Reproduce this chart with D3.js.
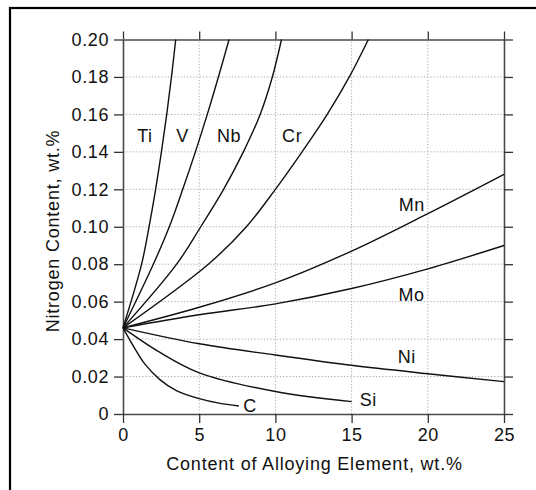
<!DOCTYPE html>
<html>
<head>
<meta charset="utf-8">
<script src="https://cdn.jsdelivr.net/npm/d3@7/dist/d3.min.js"></script>
<style>
  html, body { margin: 0; padding: 0; background: #fff; }
  svg { display: block; }
  text { font-family: "Liberation Sans", Arial, Helvetica, sans-serif; fill: #111; }
</style>
</head>
<body>
<svg id="chart" width="536" height="490"></svg>
<script>
// Solubility of nitrogen in iron vs. alloying element content
const xTicks = [0, 5, 10, 15, 20, 25];
const yTicks = [0, 0.02, 0.04, 0.06, 0.08, 0.10, 0.12, 0.14, 0.16, 0.18, 0.20];
const yTickLabels = ["0", "0.02", "0.04", "0.06", "0.08", "0.10", "0.12", "0.14", "0.16", "0.18", "0.20"];

const elements = ["Ti", "V", "Nb", "Cr", "Mn", "Mo", "Ni", "Si", "C"];

// [alloy wt.%, N wt.%] for each element
const tiValues = [[0, 0.046], [1.22, 0.08], [1.71, 0.10], [2.14, 0.12], [2.52, 0.14], [2.87, 0.16], [3.18, 0.18], [3.46, 0.20]];
const vValues  = [[0, 0.046], [1.99, 0.08], [3.04, 0.10], [3.92, 0.12], [4.75, 0.14], [5.53, 0.16], [6.26, 0.18], [6.96, 0.20]];
const nbValues = [[0, 0.046], [3.52, 0.08], [5.1, 0.10], [6.6, 0.12], [7.9, 0.14], [9.0, 0.16], [9.8, 0.18], [10.4, 0.20]];
const crValues = [[0, 0.046], [5.6, 0.08], [8.1, 0.10], [10.0, 0.12], [11.75, 0.14], [13.4, 0.16], [14.85, 0.18], [16.1, 0.20]];
const mnValues = [[0, 0.046], [5, 0.057], [10, 0.070], [15, 0.087], [20, 0.107], [25, 0.128]];
const moValues = [[0, 0.046], [5, 0.053], [10, 0.0588], [15, 0.067], [20, 0.0775], [25, 0.090]];
const niValues = [[0, 0.046], [5, 0.0375], [10, 0.0315], [15, 0.026], [20, 0.0215], [25, 0.0173]];
const siValues = [[0, 0.046], [2.4, 0.033], [5, 0.022], [10, 0.012], [15, 0.0066]];
const cValues  = [[0, 0.046], [0.7, 0.036], [1.4, 0.027], [2.4, 0.0185], [3.5, 0.0125], [5, 0.0082], [6.3, 0.0058], [7.6, 0.0043]];

// label anchor points (data units) for the element names
const labelAnchors = [[1.44, 0.1488], [3.9, 0.1488], [6.96, 0.1488], [11.1, 0.1485], [18.95, 0.1118], [18.93, 0.0636], [18.62, 0.0305], [16.1, 0.0075], [8.33, 0.0045]];

const seriesValues = [tiValues, vValues, nbValues, crValues, mnValues, moValues, niValues, siValues, cValues];

const svg = d3.select("#chart");

// page frame
svg.append("rect")
  .attr("x", 10).attr("y", 8)
  .attr("width", 700).attr("height", 700)
  .attr("fill", "none").attr("stroke", "#000").attr("stroke-width", 2.2);

const plotLeft = 123, plotRight = 504, plotTop = 39.5, plotBottom = 414;
const x = d3.scaleLinear().domain([0, 25]).range([plotLeft, plotRight]);
const y = d3.scaleLinear().domain([0, 0.20]).range([plotBottom, plotTop]);

// dotted grid
const grid = svg.append("g").attr("stroke", "#a8a8a8").attr("stroke-width", 1).attr("stroke-dasharray", "1.2,2");
grid.selectAll("line.vx").data(xTicks.filter(v => v > 0 && v < 25)).join("line")
  .attr("x1", d => x(d)).attr("x2", d => x(d)).attr("y1", y(0)).attr("y2", y(0.20));
grid.selectAll("line.hy").data(yTicks.filter(v => v > 0 && v < 0.20)).join("line")
  .attr("y1", d => y(d)).attr("y2", d => y(d)).attr("x1", x(0)).attr("x2", x(25));

const fmt = d => yTickLabels[yTicks.indexOf(d)];
const styleAxis = g => {
  g.selectAll("path.domain").attr("stroke", "#4a4a4a").attr("stroke-width", 1.6);
  g.selectAll(".tick line").attr("stroke", "#333").attr("stroke-width", 1.3);
  g.selectAll(".tick text")
    .attr("font-size", 18).attr("letter-spacing", "0.6px").attr("fill", "#111");
};

svg.append("g").attr("transform", `translate(0,${plotBottom})`)
  .call(d3.axisBottom(x).tickValues(xTicks).tickSize(9).tickSizeOuter(0).tickPadding(5))
  .call(styleAxis);
svg.append("g").attr("transform", `translate(${plotLeft},0)`)
  .call(d3.axisLeft(y).tickValues(yTicks).tickFormat(fmt).tickSize(9).tickSizeOuter(0).tickPadding(5))
  .call(styleAxis);
svg.append("g").attr("transform", `translate(0,${plotTop})`)
  .call(d3.axisTop(x).tickValues(xTicks).tickFormat("").tickSize(8).tickSizeOuter(0))
  .call(styleAxis);
svg.append("g").attr("transform", `translate(${plotRight},0)`)
  .call(d3.axisRight(y).tickValues(yTicks).tickFormat("").tickSize(9).tickSizeOuter(0))
  .call(styleAxis);

// curves
const line = d3.line().x(d => x(d[0])).y(d => y(d[1])).curve(d3.curveCatmullRom.alpha(0.5));
svg.append("g").selectAll("path").data(seriesValues).join("path")
  .attr("d", line)
  .attr("fill", "none").attr("stroke", "#111").attr("stroke-width", 1.4);

// element names
svg.append("g").selectAll("text").data(elements).join("text")
  .attr("x", (d, i) => x(labelAnchors[i][0]))
  .attr("y", (d, i) => y(labelAnchors[i][1]))
  .attr("dy", "0.35em")
  .attr("text-anchor", "middle")
  .attr("font-size", 18).attr("letter-spacing", "0.6px")
  .text(d => d);

// axis titles
svg.append("text")
  .attr("x", (plotLeft + plotRight) / 2 + 1).attr("y", 470)
  .attr("text-anchor", "middle")
  .attr("font-size", 18).attr("letter-spacing", "0.8px")
  .text("Content of Alloying Element, wt.%");

svg.append("text")
  .attr("transform", "translate(59,231) rotate(-90)")
  .attr("text-anchor", "middle")
  .attr("font-size", 18).attr("letter-spacing", "0.8px")
  .text("Nitrogen Content, wt.%");
</script>
</body>
</html>
